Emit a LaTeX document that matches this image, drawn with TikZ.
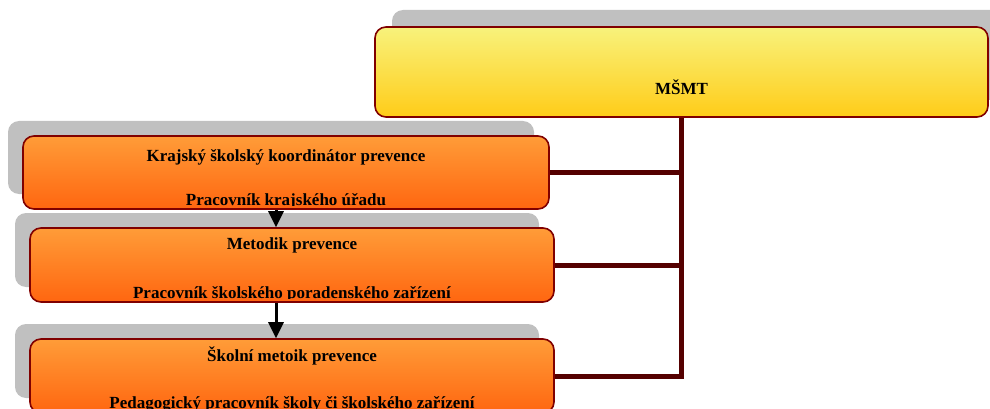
\documentclass[tikz,border=0pt]{standalone}
\usepackage{fontspec}
\setmainfont{Liberation Serif}
\usetikzlibrary{shadows,arrows.meta}
\definecolor{boxline}{RGB}{128,0,0}
\definecolor{trunkred}{RGB}{85,0,0}
\definecolor{shadegray}{RGB}{192,192,192}
\definecolor{orangetop}{RGB}{255,156,56}
\definecolor{orangebot}{RGB}{255,102,16}
\definecolor{yellowtop}{RGB}{248,242,124}
\definecolor{yellowbot}{RGB}{255,204,24}
\begin{document}
\begin{tikzpicture}[x=1pt,y=-1pt,
  basebox/.style={draw=boxline,line width=1.6pt,rounded corners=11pt,inner sep=0pt},
  orangebox/.style={basebox,top color=orangetop,bottom color=orangebot,
    minimum width=524pt,minimum height=74pt,
    general shadow={fill=shadegray,shadow xshift=-15pt,shadow yshift=15pt}},
  yellowbox/.style={basebox,top color=yellowtop,bottom color=yellowbot,
    minimum width=613pt,minimum height=90pt,
    general shadow={fill=shadegray,shadow xshift=17pt,shadow yshift=17pt}},
  boxtext/.style={font=\fontsize{17}{20}\selectfont\bfseries,inner sep=0pt,anchor=base},
  trunk/.style={draw=trunkred,line width=5pt},
  flow/.style={draw=black,line width=3pt,-{Triangle[width=15pt,length=16pt]}}]
\useasboundingbox (0,0) rectangle (990,409);
% boxes
\node[yellowbox] (msmt) at (681.5,72) {};
\node[orangebox,minimum width=526pt,minimum height=73pt] (kraj) at (286,172.5) {};
\node[orangebox] (metodik) at (292,265) {};
\node[orangebox] (skolni) at (292,376) {};
% texts, the lower line is cut at its baseline
\node[boxtext] (msmtname) at (681.5,95) {MŠMT};
\begin{scope}
\clip (kraj.north west) rectangle ([yshift=4pt]kraj.south east);
\node[boxtext] (krajrole) at (286,161) {Krajský školský koordinátor prevence};
\node[boxtext] (krajwho) at (286,205) {Pracovník krajského úřadu};
\end{scope}
\begin{scope}
\clip (metodik.north west) rectangle ([yshift=4pt]metodik.south east);
\node[boxtext] (metodikrole) at (292,249) {Metodik prevence};
\node[boxtext] (metodikwho) at (292,298) {Pracovník školského poradenského zařízení};
\end{scope}
\begin{scope}
\clip (skolni.north west) rectangle ([yshift=4pt]skolni.south east);
\node[boxtext] (skolnirole) at (292,361) {Školní metoik prevence};
\node[boxtext] (skolniwho) at (292,408) {Pedagogický pracovník školy či školského zařízení};
\end{scope}
% connectors
\draw[trunk] (msmt.south) |- (skolni.east);
\draw[trunk] (kraj.east) -- (kraj.east -| msmt.south);
\draw[trunk] (metodik.east) -- (metodik.east -| msmt.south);
\coordinate (arrowx) at (276,0);
\draw[flow] (kraj.south -| arrowx) -- (metodik.north -| arrowx);
\draw[flow] (metodik.south -| arrowx) -- (skolni.north -| arrowx);
\end{tikzpicture}
\end{document}
